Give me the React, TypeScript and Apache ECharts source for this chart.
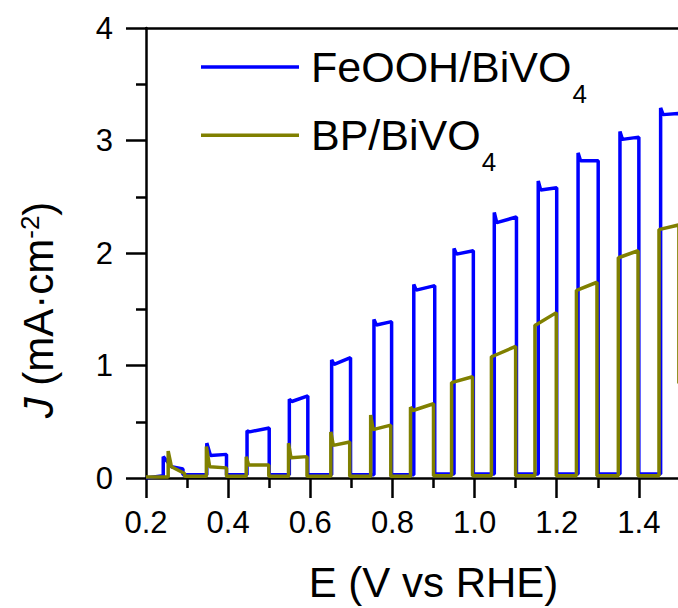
import React, { useEffect, useRef } from "react";
import * as echarts from "echarts";

const FONT = '"Liberation Sans", Arial, sans-serif';

// Series names
const seriesNames = ["FeOOH/BiVO4", "BP/BiVO4"];

// FeOOH/BiVO4 (blue) chopped-light pulses
const feStart = 0.0;
const feDark = [0.02, 0.03, 0.03, 0.03, 0.03, 0.03, 0.03, 0.035, 0.035, 0.035, 0.035, 0.035, 0.035];
const feRise = [0.242, 0.348, 0.446, 0.549, 0.652, 0.755, 0.852, 0.95, 1.048, 1.155, 1.252, 1.354, 1.453];
const fePeak = [0.19, 0.31, 0.42, 0.7, 1.05, 1.41, 1.72, 2.04, 2.36, 2.64, 2.89, 3.08, 3.29];
const feDipE = [0.262, 0.357, 0.452, 0.555, 0.658, 0.761, 0.858, 0.956, 1.054, 1.161, 1.258, 1.36, 1.459];
const feDip = [0.1, 0.2, 0.41, 0.68, 1.01, 1.36, 1.67, 1.99, 2.27, 2.56, 2.82, 3.01, 3.23];
const feEnd = [0.08, 0.21, 0.445, 0.73, 1.07, 1.39, 1.71, 2.02, 2.32, 2.58, 2.82, 3.03, 3.24];
const feFall = [0.29, 0.396, 0.5, 0.594, 0.698, 0.798, 0.903, 0.997, 1.102, 1.2, 1.301, 1.4, 1.4995];
const feTail = 0.03;

// BP/BiVO4 (olive) chopped-light pulses
const bpStart = 0.01;
const bpDark = [0.01, 0.015, 0.015, 0.015, 0.015, 0.015, 0.015, 0.02, 0.02, 0.02, 0.02, 0.02, 0.02];
const bpRise = [0.254, 0.347, 0.444, 0.547, 0.65, 0.747, 0.844, 0.944, 1.041, 1.147, 1.248, 1.35, 1.449];
const bpSpike = [0.24, 0.28, 0.19, 0.31, 0.41, 0.56, 0.63, 0.85, 1.08, 1.36, 1.67, 1.96, 2.21];
const bpStartE = [0.262, 0.355, 0.45, 0.553, 0.656, 0.753, 0.85, 0.946, 1.043, 1.149, 1.25, 1.352, 1.451];
const bpPlateau = [0.1, 0.1, 0.115, 0.18, 0.29, 0.43, 0.6, 0.85, 1.08, 1.36, 1.67, 1.96, 2.21];
const bpEnd = [0.04, 0.09, 0.115, 0.19, 0.32, 0.47, 0.66, 0.9, 1.17, 1.47, 1.74, 2.02, 2.25];
const bpFall = [0.294, 0.396, 0.499, 0.592, 0.696, 0.796, 0.9, 0.995, 1.1, 1.199, 1.298, 1.398, 1.4975];
const bpTail = 0.84;

function buildPulses(
  start: number,
  dark: number[],
  rise: number[],
  peak: number[],
  dipE: number[],
  dip: number[],
  end: number[],
  fall: number[],
  tail: number
): number[][] {
  const pts: number[][] = [[0.2, start]];
  for (let i = 0; i < rise.length; i++) {
    pts.push([rise[i], dark[i]]);
    pts.push([rise[i], peak[i]]);
    pts.push([dipE[i], dip[i]]);
    pts.push([fall[i], end[i]]);
    pts.push([fall[i], i + 1 < rise.length ? dark[i + 1] : tail]);
  }
  return pts;
}

export default function App() {
  const ref = useRef<HTMLDivElement>(null);
  useEffect(() => {
    if (!ref.current) return;
    const chart = echarts.init(ref.current, undefined, { renderer: "svg" });
    const feData = buildPulses(feStart, feDark, feRise, fePeak, feDipE, feDip, feEnd, feFall, feTail);
    const bpData = buildPulses(bpStart, bpDark, bpRise, bpSpike, bpStartE, bpPlateau, bpEnd, bpFall, bpTail);
    const axisLine = { lineStyle: { color: "#000", width: 2.5 } };
    chart.setOption({
      animation: false,
      backgroundColor: "#fff",
      textStyle: { fontFamily: FONT },
      grid: {
        left: 146,
        right: -43,
        top: 28,
        bottom: 130,
        containLabel: false,
        outerBoundsMode: "none",
      },
      legend: {
        orient: "vertical",
        left: 201,
        top: 27,
        padding: 0,
        itemGap: -11.7,
        itemWidth: 98,
        itemHeight: 3.5,
        icon: "rect",
        data: seriesNames.map((n) => ({ name: n, icon: "rect" })),
        selectedMode: false,
        formatter: (n: string) =>
          n === seriesNames[0] ? "{a|FeOOH/BiVO}{s|4}" : "{a|BP/BiVO}{s|4}",
        textStyle: {
          color: "#000",
          fontFamily: FONT,
          fontSize: 43,
          rich: {
            a: { fontSize: 43, lineHeight: 43, padding: [0, 0, 0, 7], fontFamily: FONT, color: "#000" },
            s: { fontSize: 26, lineHeight: 26, padding: [54, 0, 0, 1], fontFamily: FONT, color: "#000" },
          },
        },
      },
      xAxis: [
        {
          type: "value",
          position: "bottom",
          min: 0.2,
          max: 1.6,
          interval: 0.2,
          axisLine,
          axisTick: { show: true, inside: false, length: 20, lineStyle: { color: "#000", width: 2.5 } },
          minorTick: { show: true, splitNumber: 2, length: 10, lineStyle: { color: "#000", width: 2.5 } },
          axisLabel: {
            fontSize: 31,
            margin: 29,
            color: "#000",
            fontFamily: FONT,
            showMaxLabel: false,
            formatter: (v: number) => v.toFixed(1),
          },
          splitLine: { show: false },
          minorSplitLine: { show: false },
          name: "E (V vs RHE)",
          nameLocation: "middle",
          nameGap: 83,
          nameTextStyle: { fontSize: 42, color: "#000", fontFamily: FONT },
        },
        {
          type: "value",
          position: "top",
          min: 0.2,
          max: 1.6,
          interval: 0.2,
          axisLine,
          axisTick: { show: false },
          axisLabel: { show: false },
          splitLine: { show: false },
        },
      ],
      yAxis: {
        type: "value",
        min: 0,
        max: 4,
        interval: 1,
        axisLine: { show: true, lineStyle: { color: "#000", width: 2.5 } },
        axisTick: { show: true, inside: false, length: 20, lineStyle: { color: "#000", width: 2.5 } },
        minorTick: { show: true, splitNumber: 2, length: 10, lineStyle: { color: "#000", width: 2.5 } },
        axisLabel: { fontSize: 31, margin: 33, color: "#000", fontFamily: FONT },
        splitLine: { show: false },
        minorSplitLine: { show: false },
      },
      graphic: [
        {
          type: "text",
          x: 38,
          y: 310,
          rotation: Math.PI / 2,
          style: {
            text: "{i|J} (mA·cm{p|-2})",
            fill: "#000",
            fontSize: 42,
            fontFamily: FONT,
            align: "center",
            verticalAlign: "middle",
            rich: {
              i: { fontStyle: "italic", fontSize: 42, lineHeight: 42, fontFamily: FONT, fill: "#000" },
              p: { fontSize: 26, lineHeight: 26, verticalAlign: "top", fontFamily: FONT, fill: "#000" },
            },
          },
        },
      ],
      series: [
        {
          name: seriesNames[0],
          type: "line",
          xAxisIndex: 0,
          data: feData,
          symbol: "none",
          color: "#0000ff",
          lineStyle: { color: "#0000ff", width: 3.5 },
          emphasis: { disabled: true },
        },
        {
          name: seriesNames[1],
          type: "line",
          xAxisIndex: 0,
          data: bpData,
          symbol: "none",
          color: "#808000",
          lineStyle: { color: "#808000", width: 3.5 },
          emphasis: { disabled: true },
        },
      ],
    });
    return () => chart.dispose();
  }, []);
  return (
    <div
      ref={ref}
      style={{ position: "absolute", left: 0, top: 0, width: 678, height: 608, background: "#fff" }}
    />
  );
}
